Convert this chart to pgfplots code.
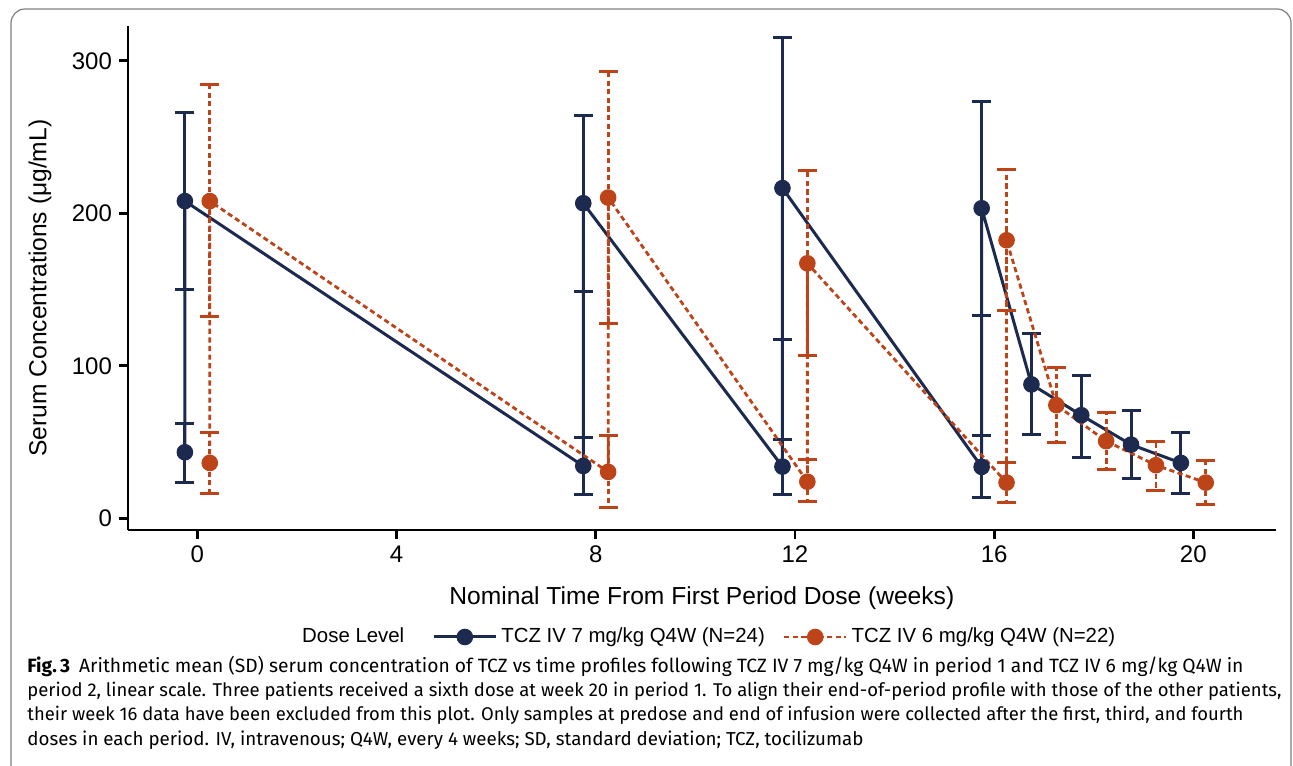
\documentclass[border=0pt]{standalone}
\usepackage{graphicx}
\usepackage{fontspec}
\setmainfont{Liberation Sans}
\newfontfamily\capfont{Fira Sans}
\usepackage{pgfplots}
\pgfplotsset{compat=1.18}
\definecolor{navy}{RGB}{27,42,78}
\definecolor{rust}{RGB}{189,67,24}
\definecolor{framegray}{RGB}{128,128,128}
\begin{document}
\begin{tikzpicture}
\useasboundingbox (0,0) rectangle (646.5pt,382.5pt);
\draw[framegray, line width=0.6pt, rounded corners=7pt] (5.5pt,-20pt) rectangle (645.5pt,378pt);
\begin{axis}[
  at={(64pt,117.5pt)}, anchor=south west,
  scale only axis, width=573.85pt, height=252pt,
  xmin=-1.392, xmax=21.655, ymin=-7.67, ymax=322.8,
  axis x line*=bottom, axis y line*=left,
  axis line style={line width=1.4pt, -},
  xtick={0,4,...,20}, ytick={0,100,200,300},
  tick style={line width=1.4pt, black},
  major tick length=4.5pt, tick align=outside,
  tick label style={font=\fontsize{12}{14}\selectfont},
  /pgf/number format/assume math mode=true,
  xlabel={Nominal Time From First Period Dose (weeks)},
  ylabel={Serum Concentrations (μg/mL)},
  label style={font=\fontsize{12.3}{14}\selectfont},
  x label style={at={(axis description cs:0.5,-0.135)}, anchor=center},
  y label style={at={(axis description cs:-0.0767,0.48)}, anchor=center},
  legend style={at={(axis description cs:0.506,-0.2123)}, anchor=center,
    draw=none, fill=none, font=\fontsize{10.2}{11}\selectfont,
    /tikz/column 2/.style={column sep=12pt},
    /tikz/column 4/.style={column sep=7pt}},
  legend columns=3,
  legend image code/.code={\draw[mark repeat=2,mark phase=2,#1] plot coordinates {(0pt,0pt) (15.5pt,0pt) (31pt,0pt)};},
]
\addlegendimage{empty legend}
\addlegendentry{Dose Level}
\addplot[navy, line width=1.5pt, mark=*, mark size=3.9pt,
  mark options={solid, line width=0.5pt, fill=navy},
  error bars/.cd, y dir=both, y explicit,
  error bar style={line width=1.5pt, solid},
  error mark options={rotate=90, mark size=4.75pt, line width=1.5pt, navy, solid}]
coordinates {
(-0.25,43.3) += (0,19.1) -= (0,19.7)
(-0.25,208) += (0,58) -= (0,58.3)
(7.75,34.3) += (0,18.7) -= (0,18.7)
(7.75,206.6) += (0,57.6) -= (0,58)
(11.75,33.9) += (0,17.5) -= (0,18.3)
(11.75,216.5) += (0,98.9) -= (0,99.4)
(15.75,33.7) += (0,20.3) -= (0,20.3)
(15.75,203.3) += (0,69.7) -= (0,70.5)
(16.75,87.8) += (0,33.2) -= (0,33.1)
(17.75,67.6) += (0,26.3) -= (0,28)
(18.75,48.3) += (0,22.2) -= (0,22.5)
(19.75,36.3) += (0,19.7) -= (0,20.3)
};
\addlegendentry{TCZ IV 7 mg/kg Q4W (N=24)}
\addplot[rust, line width=1.4pt, dash pattern=on 2.6pt off 1.7pt, mark=*, mark size=3.9pt,
  mark options={solid, line width=0.5pt, fill=rust},
  error bars/.cd, y dir=both, y explicit,
  error bar style={line width=1.4pt, dash pattern=on 2.6pt off 1.7pt},
  error mark options={rotate=90, mark size=4.75pt, line width=1.5pt, rust, solid}]
coordinates {
(0.25,36.3) += (0,19.7) -= (0,20)
(0.25,208) += (0,76.7) -= (0,75.8)
(8.25,30.4) += (0,23.6) -= (0,23)
(8.25,210.3) += (0,82.7) -= (0,82.7)
(12.25,24) += (0,14.3) -= (0,13.3)
(12.25,167.2) += (0,60.8) -= (0,60.6)
(16.25,23.4) += (0,12.9) -= (0,13.3)
(16.25,182.3) += (0,46.2) -= (0,46.1)
(17.25,74.2) += (0,24.5) -= (0,24.8)
(18.25,50.6) += (0,18.5) -= (0,18.7)
(19.25,34.8) += (0,15.3) -= (0,16.6)
(20.25,23.4) += (0,14.2) -= (0,14.4)
};
\addlegendentry{TCZ IV 6 mg/kg Q4W (N=22)}
\end{axis}
\begin{scope}[every node/.style={anchor=mid west, inner sep=0pt, font=\capfont\fontsize{9.6}{12}\selectfont}]
\node at (13.5pt,48.8pt) {\resizebox{608pt}{!}{{\bfseries Fig.\,3}\hspace{4.5pt}Arithmetic mean (SD) serum concentration of TCZ vs time profiles following TCZ IV 7 mg/kg Q4W in period 1 and TCZ IV 6 mg/kg Q4W in}};
\node at (13.5pt,36.8pt) {\resizebox{627pt}{!}{period 2, linear scale. Three patients received a sixth dose at week 20 in period 1. To align their end-of-period profile with those of the other patients,}};
\node at (13.5pt,24.8pt) {\resizebox{608pt}{!}{their week 16 data have been excluded from this plot. Only samples at predose and end of infusion were collected after the first, third, and fourth}};
\node at (13.5pt,12.3pt) {\resizebox{418pt}{!}{doses in each period. IV, intravenous; Q4W, every 4 weeks; SD, standard deviation; TCZ, tocilizumab}};
\end{scope}
\end{tikzpicture}
\end{document}
